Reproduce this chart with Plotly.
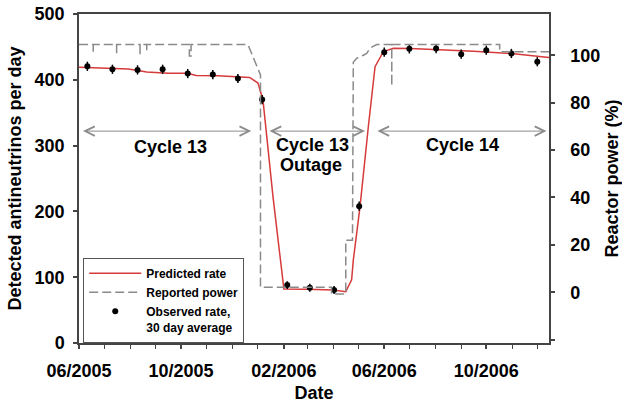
import plotly.graph_objects as go

# ---- data ----
pred_dates = ["2005-06-01", "2005-07-30", "2005-08-21", "2005-09-16", "2005-10-09", "2005-10-19",
              "2005-11-14", "2005-12-08", "2005-12-22", "2006-01-01", "2006-01-07", "2006-01-19",
              "2006-02-01", "2006-03-01", "2006-04-01", "2006-04-16", "2006-04-23", "2006-04-25",
              "2006-05-03", "2006-05-13", "2006-05-21", "2006-05-31", "2006-06-12", "2006-07-02",
              "2006-08-07", "2006-08-31", "2006-09-16", "2006-10-31", "2006-12-05", "2006-12-15"]
pred_rate = [419, 416.5, 412, 410, 410, 406.5, 406, 405, 403.5, 395, 369, 222,
             82, 81.5, 80.5, 78, 96, 126, 207, 329, 420, 443, 448, 447.5,
             446, 444, 443.5, 440, 435, 434]

power_dates = ["2005-06-01", "2005-06-18", "2005-06-18", "2005-06-18", "2005-07-16", "2005-07-16",
               "2005-07-16", "2005-08-13", "2005-08-13", "2005-08-13", "2005-08-21", "2005-08-21",
               "2005-08-21", "2005-10-11", "2005-10-11", "2005-10-13", "2005-10-13", "2005-12-20",
               "2006-01-04", "2006-01-04", "2006-03-30", "2006-03-30", "2006-04-16", "2006-04-16",
               "2006-04-24", "2006-04-25", "2006-04-29", "2006-05-07", "2006-05-11", "2006-05-15",
               "2006-05-23", "2006-06-10", "2006-06-10", "2006-06-10", "2006-10-17", "2006-10-17",
               "2006-12-15"]
power_pct = [104.5, 104.5, 101.5, 104.5, 104.5, 100.8,
             104.5, 104.5, 100.1, 104.5, 104.5, 101.5,
             104.5, 104.5, 99.7, 99.7, 104.5, 104.5,
             91.7, 2.1, 2.1, -0.7, -0.7, 22,
             22, 97, 98.7, 100, 100.8, 103,
             104.5, 104.5, 87, 104.5, 104.5, 101.5,
             101.5]

obs_dates = ["2005-06-11", "2005-07-11", "2005-08-10", "2005-09-09", "2005-10-09", "2005-11-08",
             "2005-12-08", "2006-01-06", "2006-02-05", "2006-03-04", "2006-04-02", "2006-05-02",
             "2006-06-01", "2006-07-01", "2006-08-02", "2006-09-01", "2006-10-01", "2006-10-31",
             "2006-12-01"]
obs_rate = [420.5, 416, 415, 416, 409.5, 408, 402, 370, 88, 84, 80.5, 208,
            442, 447, 447.5, 439, 445, 440, 427.5]
obs_err = [7, 7, 7, 7, 7, 7, 7, 7, 6, 6, 6, 7, 7, 7, 7, 7, 7, 7, 7]

x_tick_vals = ["2005-06-01", "2005-10-01", "2006-02-01", "2006-06-01", "2006-10-01"]
x_tick_text = ["06/2005", "10/2005", "02/2006", "06/2006", "10/2006"]
y_ticks = [0, 100, 200, 300, 400, 500]
y2_tick_vals = [-20, 0, 20, 40, 60, 80, 100]
y2_tick_text = ["", "0", "20", "40", "60", "80", "100"]

arrow_starts = ["2005-06-04", "2006-01-13", "2006-05-22"]
arrow_ends = ["2005-12-24", "2006-05-09", "2006-12-12"]
arrow_level = 322

label_texts = ["Cycle 13", "Cycle 13", "Outage", "Cycle 14"]
label_dates = ["2005-09-18", "2006-03-07", "2006-03-06", "2006-09-03"]
label_vals = [298, 301, 270.5, 301]

FONT = "Liberation Sans, Arial, sans-serif"
AX = "#444444"

fig = go.Figure()

fig.add_trace(go.Scatter(
    x=pred_dates, y=pred_rate, mode="lines", name="Predicted rate",
    line=dict(color="#d63a3a", width=1.5), yaxis="y"))

fig.add_trace(go.Scatter(
    x=power_dates, y=power_pct, mode="lines", name="Reported power",
    line=dict(color="#8a8a8a", width=1.5, dash="9px,4px"), yaxis="y2"))

fig.add_trace(go.Scatter(
    x=obs_dates, y=obs_rate, mode="markers", name="Observed rate,<br>30 day average",
    marker=dict(color="black", size=6),
    error_y=dict(type="data", array=obs_err, color="black", thickness=1.5, width=0),
    yaxis="y"))

annotations = []
for s, e in zip(arrow_starts, arrow_ends):
    annotations.append(dict(
        x=e, y=arrow_level, ax=s, ay=arrow_level, xref="x", yref="y", axref="x", ayref="y",
        text="", showarrow=True, arrowside="end+start", arrowhead=5, startarrowhead=5,
        arrowsize=1.9, startarrowsize=1.9, arrowwidth=1, arrowcolor="#8c8c8c",
        standoff=0, startstandoff=0))
for t, d, v in zip(label_texts, label_dates, label_vals):
    annotations.append(dict(
        x=d, y=v, xref="x", yref="y", text=t, showarrow=False,
        font=dict(family=FONT, size=18, color="black", weight="bold"),
        xanchor="center", yanchor="middle"))

fig.update_layout(
    width=622, height=407,
    margin=dict(l=79, r=73, t=14, b=64),
    paper_bgcolor="white", plot_bgcolor="white",
    font=dict(family=FONT, size=18, color="black", weight="bold"),
    showlegend=True,
    legend=dict(
        x=0.009, y=0.0, xanchor="left", yanchor="bottom",
        bgcolor="white", bordercolor="#555555", borderwidth=1,
        font=dict(family=FONT, size=12, color="black", weight="bold"),
        itemwidth=52, tracegroupgap=0, valign="top"),
    xaxis=dict(
        type="date", range=["2005-06-01", "2006-12-15"], automargin=False,
        tickvals=x_tick_vals, ticktext=x_tick_text,
        ticks="outside", ticklen=4, tickcolor=AX, tickwidth=1.5,
        ticklabelstandoff=7,
        minor=dict(dtick="M1", tick0="2005-06-01", ticks="outside", ticklen=4,
                   tickcolor=AX, tickwidth=1.2, showgrid=False),
        showline=True, linecolor=AX, linewidth=1.5, mirror=True,
        showgrid=False, zeroline=False,
        title=dict(text="Date", standoff=6, font=dict(size=18, weight="bold")),
        tickfont=dict(size=18, weight="bold")),
    yaxis=dict(
        range=[0, 500], tickvals=y_ticks, automargin=False,
        ticks="outside", ticklen=4, tickcolor=AX, tickwidth=1.5,
        ticklabelstandoff=5, ticklabeloverflow="allow",
        showline=True, linecolor=AX, linewidth=1.5,
        showgrid=False, zeroline=False,
        title=dict(text="Detected antineutrinos per day", standoff=8,
                   font=dict(size=18, weight="bold")),
        tickfont=dict(size=18, weight="bold")),
    yaxis2=dict(
        overlaying="y", side="right", range=[-21.4, 117.4], automargin=False,
        tickvals=y2_tick_vals, ticktext=y2_tick_text,
        ticks="outside", ticklen=4, tickcolor=AX, tickwidth=1.5,
        ticklabelstandoff=12,
        showline=True, linecolor=AX, linewidth=1.5,
        showgrid=False, zeroline=False,
        title=dict(text="Reactor power (%)", standoff=8,
                   font=dict(size=18, weight="bold")),
        tickfont=dict(size=18, weight="bold")),
    annotations=annotations,
)

fig.write_html("out.html", config={"displayModeBar": False},
               post_script="document.body.style.margin='0';")
